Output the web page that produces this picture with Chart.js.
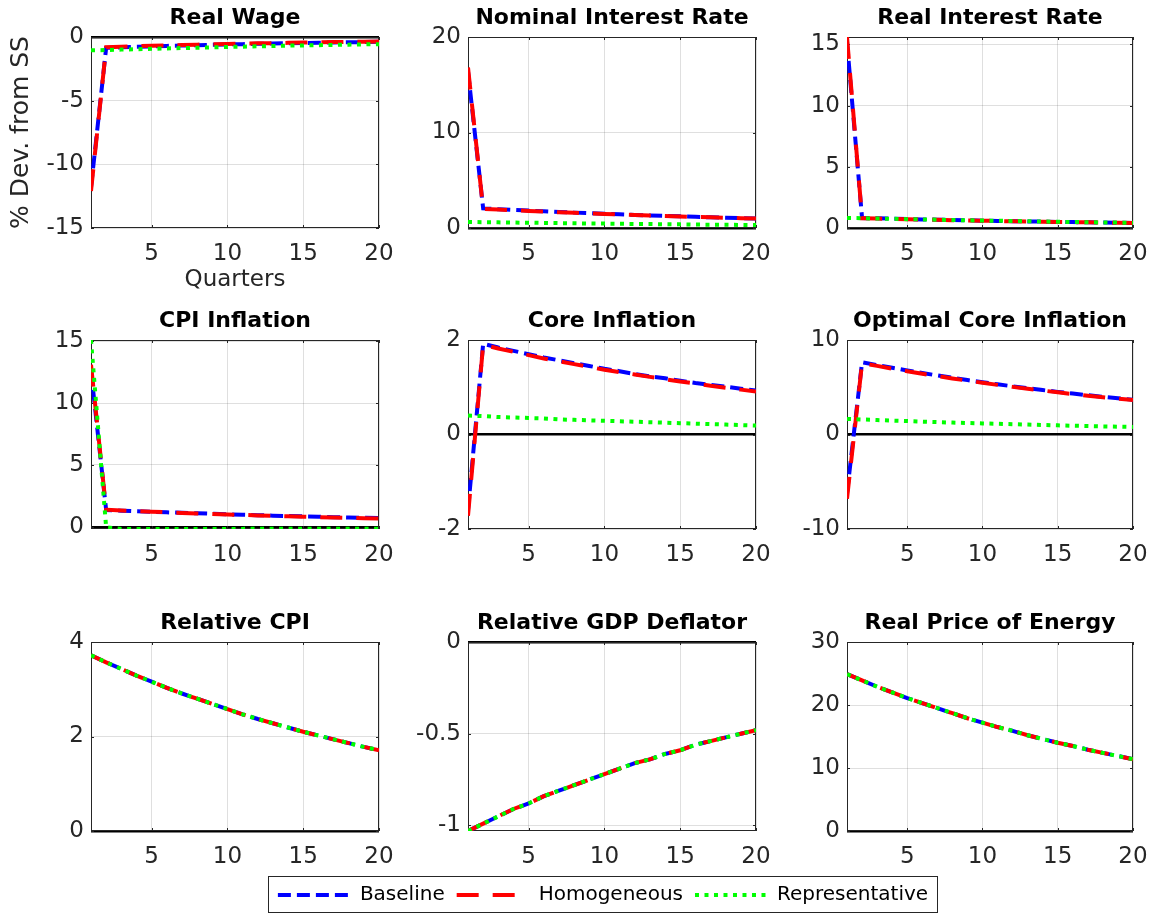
<!DOCTYPE html>
<html>
<head>
<meta charset="utf-8">
<script src="https://cdn.jsdelivr.net/npm/chart.js@4.4.0/dist/chart.umd.min.js"></script>
<style>
  body { margin: 0; background: #fff; width: 1154px; height: 915px; overflow: hidden; position: relative; }
  canvas.panel { position: absolute; }
  #legendBox { position: absolute; left: 268px; top: 876px; width: 670px; height: 37px; box-sizing: border-box; border: 1px solid #262626; background: #fff; overflow: hidden; }
  #legend { position: absolute; left: -16px; top: -4px; }
</style>
</head>
<body>
<canvas class="panel" id="p0"></canvas>
<canvas class="panel" id="p1"></canvas>
<canvas class="panel" id="p2"></canvas>
<canvas class="panel" id="p3"></canvas>
<canvas class="panel" id="p4"></canvas>
<canvas class="panel" id="p5"></canvas>
<canvas class="panel" id="p6"></canvas>
<canvas class="panel" id="p7"></canvas>
<canvas class="panel" id="p8"></canvas>
<div id="legendBox"><canvas id="legend" width="700" height="100"></canvas></div>
<script>
//quarters after the shock and the x ticks shared by all panels
var quarters = [1, 2, 3, 4, 5, 6, 7, 8, 9, 10, 11, 12, 13, 14, 15, 16, 17, 18, 19, 20];
var xTicks = [5, 10, 15, 20];
var seriesNames = ["Baseline", "Homogeneous", "Representative"];

//Real Wage
var wageBase = [-11.8, -0.85, -0.81, -0.77, -0.74, -0.70, -0.67, -0.64, -0.61, -0.58, -0.56, -0.53, -0.51, -0.49, -0.47, -0.45, -0.43, -0.41, -0.40, -0.38];
var wageHomo = [-12.1, -0.80, -0.76, -0.72, -0.69, -0.66, -0.63, -0.60, -0.57, -0.55, -0.52, -0.50, -0.48, -0.46, -0.44, -0.42, -0.40, -0.38, -0.37, -0.35];
var wageRep = [-1.05, -1.02, -0.99, -0.96, -0.93, -0.90, -0.87, -0.84, -0.81, -0.78, -0.76, -0.73, -0.71, -0.68, -0.66, -0.64, -0.62, -0.60, -0.58, -0.56];
var wageTicks = [-15, -10, -5, 0];
var wageLimits = [-15, 0];

//Nominal Interest Rate
var nomBase = [16.4, 2.05, 1.97, 1.89, 1.82, 1.75, 1.68, 1.61, 1.55, 1.49, 1.43, 1.37, 1.32, 1.27, 1.22, 1.17, 1.12, 1.08, 1.04, 1.00];
var nomHomo = [16.8, 2.00, 1.93, 1.86, 1.79, 1.72, 1.65, 1.59, 1.53, 1.47, 1.41, 1.36, 1.31, 1.26, 1.21, 1.16, 1.12, 1.07, 1.03, 0.99];
var nomRep = [0.63, 0.61, 0.59, 0.57, 0.55, 0.53, 0.51, 0.49, 0.47, 0.46, 0.44, 0.42, 0.41, 0.39, 0.38, 0.36, 0.35, 0.34, 0.32, 0.31];
var nomTicks = [0, 10, 20];
var nomLimits = [0, 20];

//Real Interest Rate
var realBase = [15.2, 0.82, 0.79, 0.76, 0.73, 0.70, 0.68, 0.65, 0.63, 0.60, 0.58, 0.56, 0.54, 0.52, 0.50, 0.48, 0.46, 0.44, 0.43, 0.41];
var realHomo = [15.6, 0.80, 0.77, 0.74, 0.72, 0.69, 0.67, 0.64, 0.62, 0.60, 0.57, 0.55, 0.53, 0.51, 0.49, 0.47, 0.46, 0.44, 0.42, 0.40];
var realRep = [0.82, 0.80, 0.77, 0.75, 0.72, 0.70, 0.68, 0.65, 0.63, 0.61, 0.59, 0.57, 0.55, 0.53, 0.51, 0.49, 0.47, 0.45, 0.44, 0.42];
var realTicks = [0, 5, 10, 15];
var realLimits = [0, 15.6];

//CPI Inflation
var cpiBase = [12.6, 1.35, 1.30, 1.25, 1.21, 1.17, 1.13, 1.09, 1.05, 1.01, 0.97, 0.94, 0.90, 0.87, 0.84, 0.81, 0.78, 0.75, 0.73, 0.70];
var cpiHomo = [13.1, 1.38, 1.32, 1.27, 1.22, 1.17, 1.12, 1.08, 1.04, 1.00, 0.96, 0.92, 0.88, 0.85, 0.81, 0.78, 0.75, 0.72, 0.69, 0.66];
var cpiRep = [15.1, -0.05, -0.17, -0.17, -0.17, -0.17, -0.17, -0.17, -0.17, -0.17, -0.17, -0.16, -0.16, -0.16, -0.16, -0.16, -0.16, -0.15, -0.15, -0.15];
var cpiTicks = [0, 5, 10, 15];
var cpiLimits = [-0.18, 15.1];

//Core Inflation
var coreBase = [-1.60, 1.92, 1.84, 1.77, 1.70, 1.63, 1.57, 1.51, 1.45, 1.39, 1.34, 1.28, 1.23, 1.19, 1.14, 1.09, 1.05, 1.01, 0.97, 0.93];
var coreHomo = [-1.72, 1.90, 1.82, 1.75, 1.68, 1.61, 1.55, 1.49, 1.43, 1.37, 1.32, 1.27, 1.22, 1.17, 1.12, 1.08, 1.03, 0.99, 0.95, 0.91];
var coreRep = [0.40, 0.39, 0.37, 0.36, 0.35, 0.34, 0.32, 0.31, 0.30, 0.29, 0.28, 0.27, 0.26, 0.25, 0.24, 0.23, 0.22, 0.21, 0.20, 0.19];
var coreTicks = [-2, 0, 2];
var coreLimits = [-2, 2];

//Optimal Core Inflation
var optBase = [-6.2, 7.65, 7.35, 7.06, 6.78, 6.51, 6.25, 6.00, 5.76, 5.53, 5.31, 5.10, 4.89, 4.70, 4.51, 4.33, 4.16, 3.99, 3.83, 3.68];
var optHomo = [-6.8, 7.55, 7.26, 6.97, 6.70, 6.43, 6.18, 5.93, 5.70, 5.47, 5.25, 5.04, 4.84, 4.65, 4.46, 4.28, 4.11, 3.95, 3.79, 3.64];
var optRep = [1.65, 1.59, 1.53, 1.47, 1.42, 1.36, 1.31, 1.26, 1.22, 1.17, 1.13, 1.09, 1.05, 1.01, 0.97, 0.93, 0.90, 0.86, 0.83, 0.80];
var optTicks = [-10, 0, 10];
var optLimits = [-10, 10];

//Relative CPI (the three curves coincide)
var relCpiBase = [3.72, 3.57, 3.43, 3.29, 3.16, 3.03, 2.91, 2.80, 2.69, 2.58, 2.47, 2.37, 2.28, 2.19, 2.10, 2.02, 1.94, 1.86, 1.78, 1.71];
var relCpiHomo = [3.72, 3.57, 3.43, 3.29, 3.16, 3.03, 2.91, 2.80, 2.69, 2.58, 2.47, 2.37, 2.28, 2.19, 2.10, 2.02, 1.94, 1.86, 1.78, 1.71];
var relCpiRep = [3.72, 3.57, 3.43, 3.29, 3.16, 3.03, 2.91, 2.80, 2.69, 2.58, 2.47, 2.37, 2.28, 2.19, 2.10, 2.02, 1.94, 1.86, 1.78, 1.71];
var relCpiTicks = [0, 2, 4];
var relCpiLimits = [0, 4];

//Relative GDP Deflator
var gdpBase = [-1.03, -0.99, -0.95, -0.91, -0.88, -0.84, -0.81, -0.78, -0.75, -0.72, -0.69, -0.66, -0.64, -0.61, -0.59, -0.56, -0.54, -0.52, -0.50, -0.48];
var gdpHomo = [-1.03, -0.99, -0.95, -0.91, -0.88, -0.84, -0.81, -0.78, -0.75, -0.72, -0.69, -0.66, -0.64, -0.61, -0.59, -0.56, -0.54, -0.52, -0.50, -0.48];
var gdpRep = [-1.03, -0.99, -0.95, -0.91, -0.88, -0.84, -0.81, -0.78, -0.75, -0.72, -0.69, -0.66, -0.64, -0.61, -0.59, -0.56, -0.54, -0.52, -0.50, -0.48];
var gdpTicks = [-1, -0.5, 0];
var gdpLimits = [-1.03, 0];

//Real Price of Energy
var energyBase = [24.9, 23.9, 22.9, 22.0, 21.1, 20.3, 19.5, 18.7, 17.9, 17.2, 16.5, 15.9, 15.2, 14.6, 14.0, 13.5, 12.9, 12.4, 11.9, 11.4];
var energyHomo = [24.9, 23.9, 22.9, 22.0, 21.1, 20.3, 19.5, 18.7, 17.9, 17.2, 16.5, 15.9, 15.2, 14.6, 14.0, 13.5, 12.9, 12.4, 11.9, 11.4];
var energyRep = [24.9, 23.9, 22.9, 22.0, 21.1, 20.3, 19.5, 18.7, 17.9, 17.2, 16.5, 15.9, 15.2, 14.6, 14.0, 13.5, 12.9, 12.4, 11.9, 11.4];
var energyTicks = [0, 10, 20, 30];
var energyLimits = [0, 30];

//panel list, read row by row
var panels = [
  { title: "Real Wage", series: [wageBase, wageHomo, wageRep], ticks: wageTicks, limits: wageLimits },
  { title: "Nominal Interest Rate", series: [nomBase, nomHomo, nomRep], ticks: nomTicks, limits: nomLimits },
  { title: "Real Interest Rate", series: [realBase, realHomo, realRep], ticks: realTicks, limits: realLimits },
  { title: "CPI Inflation", series: [cpiBase, cpiHomo, cpiRep], ticks: cpiTicks, limits: cpiLimits },
  { title: "Core Inflation", series: [coreBase, coreHomo, coreRep], ticks: coreTicks, limits: coreLimits },
  { title: "Optimal Core Inflation", series: [optBase, optHomo, optRep], ticks: optTicks, limits: optLimits },
  { title: "Relative CPI", series: [relCpiBase, relCpiHomo, relCpiRep], ticks: relCpiTicks, limits: relCpiLimits },
  { title: "Relative GDP Deflator", series: [gdpBase, gdpHomo, gdpRep], ticks: gdpTicks, limits: gdpLimits },
  { title: "Real Price of Energy", series: [energyBase, energyHomo, energyRep], ticks: energyTicks, limits: energyLimits },
];

//where the plot boxes sit on the page
var colLeft = [91, 468, 847];
var colWidth = [288, 288, 286];
var rowTop = [37, 340, 642];
var rowHeight = [191, 189, 189];
var yAxisWidth = 82;
var titleSpace = 30;
var xAxisHeight = 64;
var rightPad = 32;

//line styles: blue dashed, red long dashes, green dotted
var lineColors = ["#0000ff", "#ff0000", "#00ff00"];
var lineDashes = [[13, 6], [22, 14], [4, 5.5]];
var lineOrder = [3, 2, 1]; //green on top, blue at the bottom
var gridGray = "rgba(38,38,38,0.15)";

Chart.defaults.font.family = "'DejaVu Sans', Verdana, sans-serif";
Chart.defaults.color = "#262626";
Chart.defaults.animation = false;

//draws the axes box and the short inward tick marks on all sides
var boxPlugin = {
  id: "box",
  beforeDatasetsDraw: function (chart) {
    var a = chart.chartArea;
    var ctx = chart.ctx;
    var xs = chart.scales.x;
    var ys = chart.scales.y;
    ctx.save();
    ctx.strokeStyle = "#262626";
    ctx.lineWidth = 1;
    ctx.strokeRect(a.left + 0.5, a.top + 0.5, a.width - 1, a.height - 1);
    ctx.beginPath();
    xs.ticks.forEach(function (t) {
      var px = Math.round(xs.getPixelForValue(t.value)) + 0.5;
      ctx.moveTo(px, a.bottom);
      ctx.lineTo(px, a.bottom - 3);
      ctx.moveTo(px, a.top);
      ctx.lineTo(px, a.top + 3);
    });
    ys.ticks.forEach(function (t) {
      var py = Math.round(ys.getPixelForValue(t.value)) + 0.5;
      ctx.moveTo(a.left, py);
      ctx.lineTo(a.left + 3, py);
      ctx.moveTo(a.right, py);
      ctx.lineTo(a.right - 3, py);
    });
    ctx.stroke();
    ctx.restore();
  },
};

//one dataset with the shared line look
function lineSet(k, data, order) {
  return {
    label: seriesNames[k],
    data: data,
    borderColor: lineColors[k],
    backgroundColor: lineColors[k],
    borderWidth: 4,
    borderDash: lineDashes[k],
    borderCapStyle: "butt",
    pointRadius: 0,
    fill: false,
    tension: 0,
    order: order,
  };
}

//draws one subplot
function drawPanel(i, p) {
  var row = Math.floor(i / 3);
  var col = i % 3;
  var canvas = document.getElementById("p" + i);
  canvas.width = yAxisWidth + colWidth[col] + rightPad;
  canvas.height = titleSpace + rowHeight[row] + xAxisHeight;
  canvas.style.left = colLeft[col] - yAxisWidth + "px";
  canvas.style.top = rowTop[row] - titleSpace + "px";

  new Chart(canvas.getContext("2d"), {
    type: "line",
    data: {
      labels: quarters,
      datasets: p.series.map(function (s, k) {
        return lineSet(k, s, lineOrder[k]);
      }),
    },
    options: {
      responsive: false,
      events: [],
      layout: { padding: { left: 0, right: rightPad, top: 0, bottom: 0 } },
      plugins: {
        legend: { display: false },
        tooltip: { enabled: false },
        title: {
          display: true,
          text: p.title,
          fullSize: false,
          color: "#000",
          font: { size: 22, weight: "bold", lineHeight: 1 },
          padding: { top: 0, bottom: titleSpace - 22 },
        },
      },
      scales: {
        x: {
          type: "linear",
          min: 1,
          max: 20,
          afterBuildTicks: function (s) {
            s.ticks = xTicks.map(function (v) { return { value: v }; });
          },
          afterFit: function (s) {
            s.height = xAxisHeight;
          },
          grid: { color: gridGray, drawTicks: false },
          border: { display: false },
          ticks: { font: { size: 23 }, padding: 12, maxRotation: 0, autoSkip: false },
          title: { display: i === 0, text: "Quarters", font: { size: 23, lineHeight: 1 }, padding: 0 },
        },
        y: {
          min: p.limits[0],
          max: p.limits[1],
          afterBuildTicks: function (s) {
            s.ticks = p.ticks.map(function (v) { return { value: v }; });
          },
          afterFit: function (s) {
            s.width = yAxisWidth;
          },
          grid: {
            drawTicks: false,
            color: function (c) {
              return c.tick && c.tick.value === 0 ? "#000" : gridGray; //zero line in black
            },
            lineWidth: function (c) {
              return c.tick && c.tick.value === 0 ? 2.5 : 1;
            },
          },
          border: { display: false },
          ticks: {
            font: { size: 23 },
            padding: 7,
            autoSkip: false,
            callback: function (v) {
              return String(v);
            },
          },
          title: { display: i === 0, text: "% Dev. from SS", font: { size: 25, lineHeight: 1 }, padding: 0 },
        },
      },
    },
    plugins: [boxPlugin],
  });
}

panels.forEach(function (p, i) {
  drawPanel(i, p);
});

//shared legend under the grid, line samples keep the dash of each series
new Chart(document.getElementById("legend").getContext("2d"), {
  type: "line",
  data: {
    datasets: [lineSet(0, [], 0), lineSet(1, [], 0), lineSet(2, [], 0)],
  },
  options: {
    responsive: false,
    events: [],
    scales: { x: { display: false }, y: { display: false } },
    plugins: {
      tooltip: { enabled: false },
      legend: {
        display: true,
        position: "top",
        labels: {
          usePointStyle: true,
          pointStyle: "line",
          pointStyleWidth: 72,
          color: "#000",
          font: { size: 20 },
          padding: 12,
          generateLabels: function (chart) {
            var items = Chart.defaults.plugins.legend.labels.generateLabels(chart);
            items.forEach(function (it) {
              var ds = chart.data.datasets[it.datasetIndex];
              it.lineDash = ds.borderDash;
              it.lineWidth = ds.borderWidth;
              it.strokeStyle = ds.borderColor;
              it.pointStyle = "line";
            });
            return items;
          },
        },
      },
    },
  },
});
</script>
</body>
</html>
